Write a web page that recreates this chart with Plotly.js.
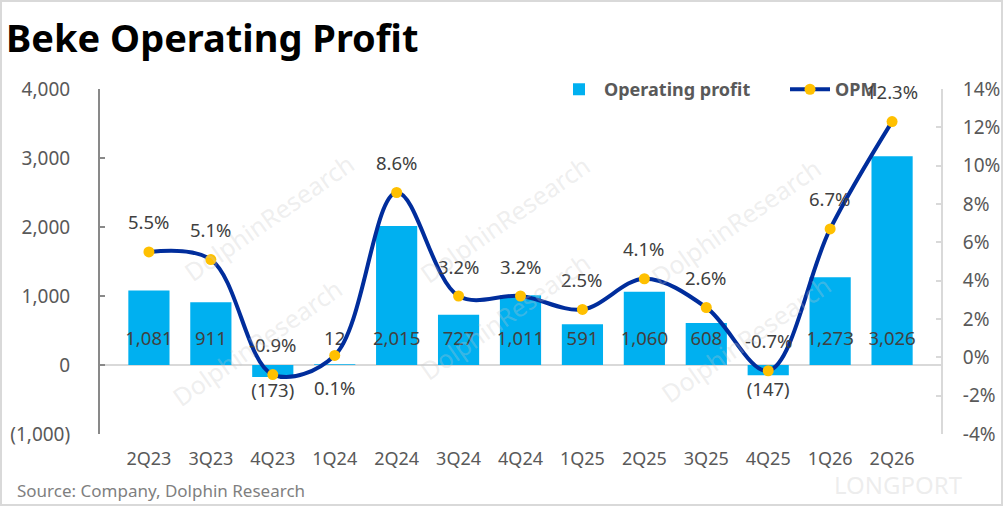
<!DOCTYPE html>
<html>
<head>
<meta charset="utf-8">
<script src="https://cdn.plot.ly/plotly-3.0.1.min.js"></script>
<style>
  html, body { margin: 0; padding: 0; background: #fff; }
  #chart { width: 1003px; height: 506px; }
  #frame { position: absolute; left: 0; top: 0; width: 1003px; height: 506px;
           box-sizing: border-box; border: 2px solid #d9d9d9; pointer-events: none; }
</style>
</head>
<body>
<div id="chart"></div>
<div id="frame"></div>
<script>
// ── Data ─────────────────────────────────────────────────────────
const quarters = ['2Q23', '3Q23', '4Q23', '1Q24', '2Q24', '3Q24', '4Q24',
                  '1Q25', '2Q25', '3Q25', '4Q25', '1Q26', '2Q26'];
const opProfit = [1081, 911, -173, 12, 2015, 727, 1011, 591, 1060, 608, -147, 1273, 3026];
const opm = [5.5, 5.1, -0.9, 0.1, 8.6, 3.2, 3.2, 2.5, 4.1, 2.6, -0.7, 6.7, 12.3];
const leftTicks = [-1000, 0, 1000, 2000, 3000, 4000];
const leftTickText = ['(1,000)', '0', '1,000', '2,000', '3,000', '4,000'];
const rightTicks = [-4, -2, 0, 2, 4, 6, 8, 10, 12, 14];

const C = {
  bar: '#00B0F0',
  line: '#002D9C',
  marker: '#FFC000',
  text: '#404040',
  axis: '#595959',
  wm: 'rgba(200,200,200,0.3)',
};
const FONT = "'Noto Sans', 'Open Sans', sans-serif";

// plot area in pixels (matches margins below)
const PL = 100, PR = 941, PT = 89, PB = 434;
const px2x = px => (px - PL) / (PR - PL);
const py2y = py => (PB - py) / (PB - PT);

const fmtNum = v => {
  const s = Math.abs(v).toLocaleString('en-US');
  return v < 0 ? '(' + s + ')' : s;
};

// bar value labels: positives sit near the base, negatives below the bar
const barLabelY = opProfit.map(v => v >= 0 ? 350 : v - 230);

const traces = [
  {
    x: quarters, y: opProfit,
    type: 'bar', name: 'Operating profit',
    marker: { color: C.bar },
    yaxis: 'y',
  },
  {
    x: quarters, y: barLabelY,
    type: 'scatter', mode: 'text',
    text: opProfit.map(fmtNum),
    textposition: 'middle center',
    textfont: { family: FONT, size: 18.5, color: C.text },
    showlegend: false, hoverinfo: 'skip',
    yaxis: 'y',
  },
  {
    x: quarters, y: opm,
    type: 'scatter', mode: 'lines+markers',
    name: 'OPM',
    line: { color: C.line, width: 4, shape: 'spline', smoothing: 1 },
    marker: { color: C.marker, size: 11 },
    yaxis: 'y2',
    legend: 'legend2',
  },
];

// OPM percentage labels above the points (1Q24 below)
const annotations = opm.map((v, i) => ({
  x: quarters[i], y: v, xref: 'x', yref: 'y2',
  text: v.toFixed(1) + '%',
  showarrow: false,
  yshift: quarters[i] === '1Q24' ? -32 : 30,
  font: { family: FONT, size: 18.5, color: C.text },
}));

// watermarks
const marks = [[175, 143], [505, 145], [830, 148], [163, 416], [505, 390], [840, 413]];
marks.forEach(([px, py]) => {
  annotations.push({
    x: px2x(px), y: py2y(py), xref: 'paper', yref: 'paper',
    text: 'DolphinResearch', showarrow: false, textangle: -35,
    font: { family: FONT, size: 25, color: C.wm },
  });
});

annotations.push({
  x: px2x(965), y: py2y(484), xref: 'paper', yref: 'paper',
  xanchor: 'right', yanchor: 'middle', text: 'LONGPORT', showarrow: false,
  font: { family: FONT, size: 24, color: 'rgba(215,215,215,0.45)' },
});

annotations.push({
  x: px2x(15), y: py2y(490), xref: 'paper', yref: 'paper',
  xanchor: 'left', yanchor: 'middle',
  text: 'Source: Company, Dolphin Research', showarrow: false,
  font: { family: FONT, size: 17, color: '#7f7f7f' },
});

const LEGEND_BASE = {
  orientation: 'h',
  y: 1.052, xanchor: 'left', yanchor: 'top',
  font: { family: FONT, size: 18, color: C.axis, weight: 'bold' },
  bgcolor: 'rgba(0,0,0,0)',
  itemwidth: 40,
};

const layout = {
  width: 1003, height: 506,
  paper_bgcolor: '#fff', plot_bgcolor: '#fff',
  font: { family: FONT, color: C.axis },
  margin: { l: PL, r: 1003 - PR, t: PT, b: 506 - PB },
  title: {
    text: 'Beke Operating Profit',
    x: 6 / 1003, xref: 'container', xanchor: 'left',
    y: 1 - 39 / 506, yref: 'container', yanchor: 'middle',
    font: { family: FONT, size: 38, color: '#000', weight: 'bold' },
  },
  bargap: 0.335,
  showlegend: true,
  legend: { ...LEGEND_BASE, x: px2x(554) },
  legend2: { ...LEGEND_BASE, x: px2x(785) },
  xaxis: {
    type: 'category',
    showline: false, showgrid: false, zeroline: false,
    ticks: '',
    tickfont: { family: FONT, size: 18, color: C.axis },
    ticklabelstandoff: 12,
  },
  yaxis: {
    range: [-1000, 4000],
    tickvals: leftTicks, ticktext: leftTickText,
    showgrid: false,
    showline: true, linecolor: '#898989', linewidth: 2,
    ticks: 'inside', ticklen: 5, tickcolor: '#898989', tickwidth: 2,
    zeroline: true, zerolinecolor: '#d9d9d9', zerolinewidth: 2,
    tickfont: { family: FONT, size: 19, color: C.axis },
    ticklabelstandoff: 24,
  },
  yaxis2: {
    overlaying: 'y', side: 'right',
    range: [-4, 14],
    tickvals: rightTicks, ticktext: rightTicks.map(v => v + '%'),
    showgrid: false, zeroline: false,
    showline: true, linecolor: '#d9d9d9', linewidth: 2,
    ticks: 'inside', ticklen: 5, tickcolor: '#d9d9d9', tickwidth: 2,
    tickfont: { family: FONT, size: 19, color: C.axis },
    ticklabelstandoff: 16,
  },
  annotations,
};

Plotly.newPlot('chart', traces, layout, { displayModeBar: false, staticPlot: true });
</script>
</body>
</html>
